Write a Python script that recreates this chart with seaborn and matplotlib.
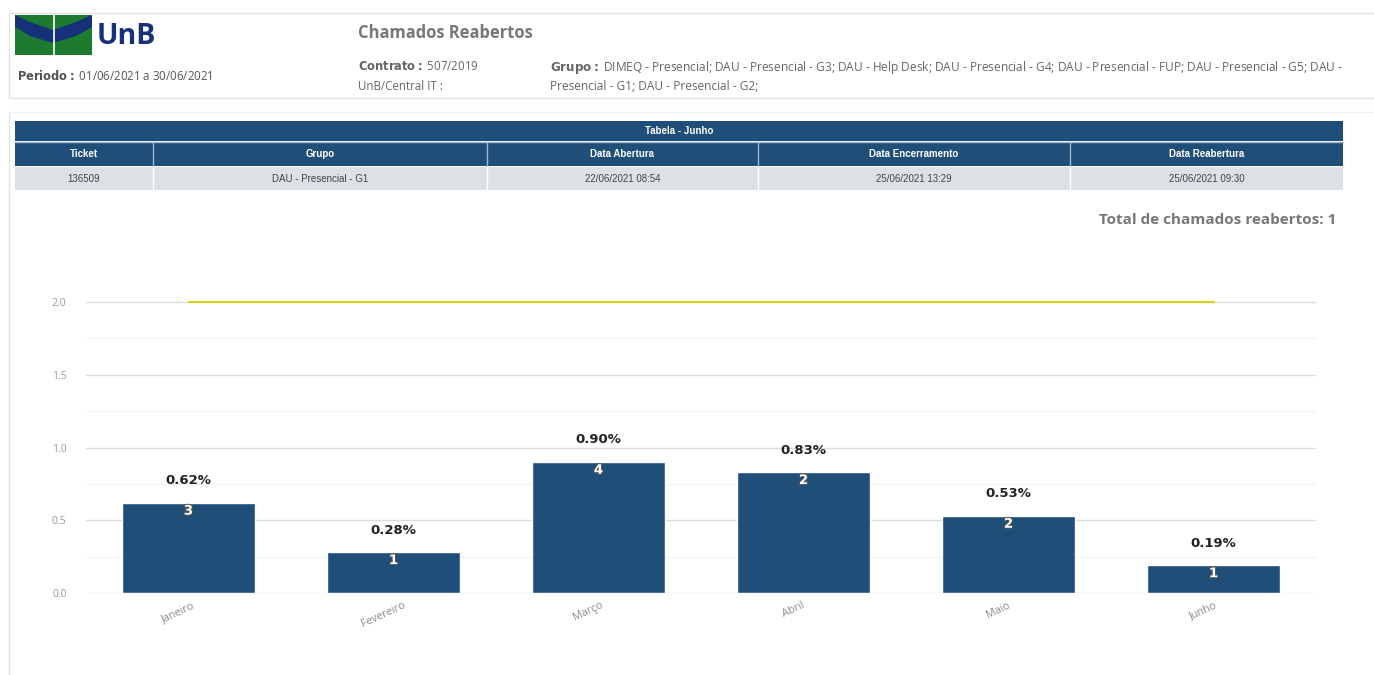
import matplotlib
matplotlib.use("Agg")
import matplotlib.pyplot as plt
import matplotlib.patheffects as pe
import matplotlib.transforms as mtransforms
from matplotlib.patches import Rectangle, Polygon
import seaborn as sns
import pandas as pd

# ---- data ----
months = ["Janeiro", "Fevereiro", "Março", "Abril", "Maio", "Junho"]
reopened_pct = [0.62, 0.28, 0.90, 0.83, 0.53, 0.19]
reopened_count = [3, 1, 4, 2, 2, 1]
goal = [2.0, 2.0, 2.0, 2.0, 2.0, 2.0]
y_ticks = [0.0, 0.5, 1.0, 1.5, 2.0]

table_title = "Tabela - Junho"
table_cols = ["Ticket", "Grupo", "Data Abertura", "Data Encerramento", "Data Reabertura"]
table_row = ["136509", "DAU - Presencial - G1", "22/06/2021 08:54", "25/06/2021 13:29", "25/06/2021 09:30"]
total_reopened = 1

W, H = 1374, 675
NAVY = "#1f4e79"
GREEN = "#1e7a2e"
LOGO_BLUE = "#17307a"

sns.set_theme(style="white")
plt.rcParams["font.family"] = ["Open Sans", "DejaVu Sans"]

fig = plt.figure(figsize=(W / 100, H / 100), dpi=100)
fig.patch.set_facecolor("white")


def fx(x):
    return x / W


def fy(y):
    return 1 - y / H


def ftext(x, y, s, **kw):
    fig.text(fx(x), fy(y), s, **kw)


# ---- header box ----
fig.add_artist(Rectangle((fx(9), fy(98)), fx(1380) - fx(9), fy(13) - fy(98),
                         transform=fig.transFigure, fill=False,
                         edgecolor="#e3e3e3", lw=1))
# left page rule
fig.add_artist(plt.Line2D([fx(9), fx(9)], [fy(112), fy(675)],
                          transform=fig.transFigure, color="#e3e3e3", lw=1))
fig.add_artist(plt.Line2D([fx(9), fx(1374)], [fy(112), fy(112)],
                          transform=fig.transFigure, color="#f0f0f0", lw=1))

# logo: green panel split by a white rule, crossed by a blue V band
fig.add_artist(Rectangle((fx(15), fy(55)), fx(92) - fx(15), fy(15) - fy(55),
                         transform=fig.transFigure, color=GREEN, lw=0))
band = [(15, 15), (30, 22), (53, 30), (76, 22), (92, 15), (92, 27),
        (76, 36), (53, 43), (30, 36), (15, 27)]
fig.add_artist(Polygon([(fx(a), fy(b)) for a, b in band], closed=True,
                       transform=fig.transFigure, color=LOGO_BLUE, lw=0))
fig.add_artist(plt.Line2D([fx(53.5), fx(53.5)], [fy(15), fy(55)],
                          transform=fig.transFigure, color="white", lw=1.2))
ftext(97, 36, "UnB", fontsize=20.5, fontweight="bold", color=LOGO_BLUE, va="center")

ftext(17, 76, r"$\bf{Periodo:}$ 01/06/2021 a 30/06/2021", fontsize=8.3,
      color="#555555", va="center")
ftext(358, 33, "Chamados Reabertos", fontsize=11.9, fontweight="bold",
      color="#777777", va="center")
ftext(358, 67, r"$\bf{Contrato:}$ 507/2019", fontsize=8.3, color="#666666", va="center")
ftext(358, 86, "UnB/Central IT :", fontsize=8.3, color="#666666", va="center")
ftext(550, 67, r"$\bf{Grupo:}$ DIMEQ - Presencial; DAU - Presencial - G3; DAU - Help Desk; "
      "DAU - Presencial - G4; DAU - Presencial - FUP; DAU - Presencial - G5; DAU -",
      fontsize=8.6, color="#666666", va="center")
ftext(550, 86, "Presencial - G1; DAU - Presencial - G2;", fontsize=8.6,
      color="#666666", va="center")

# ---- table ----
col_edges = [15, 153, 487, 758, 1070, 1343]
tfont = ["Liberation Sans Narrow", "Liberation Sans", "DejaVu Sans"]
fig.add_artist(Rectangle((fx(15), fy(141)), fx(1343) - fx(15), fy(121) - fy(141),
                         transform=fig.transFigure, color=NAVY, lw=0))
ftext((15 + 1343) / 2, 131, table_title, fontsize=7, fontweight="bold",
      color="white", ha="center", va="center", family=tfont)
fig.add_artist(Rectangle((fx(15), fy(166)), fx(1343) - fx(15), fy(142) - fy(166),
                         transform=fig.transFigure, color=NAVY, lw=0))
fig.add_artist(Rectangle((fx(15), fy(190)), fx(1343) - fx(15), fy(167) - fy(190),
                         transform=fig.transFigure, color="#dde1e6", lw=0))
fig.add_artist(plt.Line2D([fx(15), fx(1343)], [fy(141.5), fy(141.5)],
                          transform=fig.transFigure, color="#9fb6cc", lw=1))
for i in range(len(table_cols)):
    cx = (col_edges[i] + col_edges[i + 1]) / 2
    ftext(cx, 154, table_cols[i], fontsize=7, fontweight="bold", color="white",
          ha="center", va="center", family=tfont)
    ftext(cx, 178.5, table_row[i], fontsize=7, color="#444444",
          ha="center", va="center", family=tfont)
for e in col_edges[1:-1]:
    fig.add_artist(plt.Line2D([fx(e), fx(e)], [fy(142), fy(166)],
                              transform=fig.transFigure, color="#9fb6cc", lw=1))
    fig.add_artist(plt.Line2D([fx(e), fx(e)], [fy(167), fy(190)],
                              transform=fig.transFigure, color="white", lw=1))

ftext(1336, 220, f"Total de chamados reabertos: {total_reopened}", fontsize=11,
      fontweight="bold", color="#777777", ha="right", va="center")

# ---- chart ----
ymax = 2.1
px_per_unit = (593 - 302) / 2.0
ax = fig.add_axes([fx(86), fy(593), fx(1316) - fx(86), ymax * px_per_unit / H])
df = pd.DataFrame({"mes": months, "pct": reopened_pct, "qtd": reopened_count,
                   "meta": goal})
sns.barplot(data=df, x="mes", y="pct", color=NAVY, saturation=1, width=0.645,
            ax=ax, zorder=3)
ax.plot(range(len(months)), df["meta"], color="#d6d200", lw=1.4, zorder=4,
        clip_on=False)
ax.set_xlim(-0.5, len(months) - 0.5)
ax.set_ylim(0, ymax)
ax.set_yticks(y_ticks)
ax.set_yticklabels([f"{v:.1f}" for v in y_ticks])
ax.set_yticks([0.25, 0.75, 1.25, 1.75], minor=True)
ax.grid(axis="y", which="major", color="#dcdcdc", lw=1, zorder=0)
ax.grid(axis="y", which="minor", color="#f2f2f2", lw=1, zorder=0)
ax.set_xlabel("")
ax.set_ylabel("")
for s in ax.spines.values():
    s.set_visible(False)
ax.tick_params(axis="y", which="both", length=0, labelsize=7.5,
               labelcolor="#9a9a9a", pad=14)
ax.tick_params(axis="x", length=0, labelsize=7.8, labelcolor="#8a8a8a", pad=5)
shift = mtransforms.ScaledTranslation(-10 / 100, 0, fig.dpi_scale_trans)
for lab in ax.get_xticklabels():
    lab.set_rotation(25)
    lab.set_ha("center")
    lab.set_transform(lab.get_transform() + shift)

for i, (p, n) in enumerate(zip(reopened_pct, reopened_count)):
    ax.annotate(f"{p:.2f}%", (i, p), xytext=(0, 16), textcoords="offset points",
                ha="center", va="center", fontsize=9.5, fontweight="bold",
                color="#222222", family=["DejaVu Sans"])
    ax.annotate(str(n), (i, p), xytext=(0, -6), textcoords="offset points",
                ha="center", va="center", fontsize=9.5, fontweight="bold",
                color="white", family=["DejaVu Sans"],
                path_effects=[pe.withStroke(linewidth=1.5, foreground="#555555")],
                zorder=5)

fig.savefig("out.png", dpi=100, facecolor="white")
